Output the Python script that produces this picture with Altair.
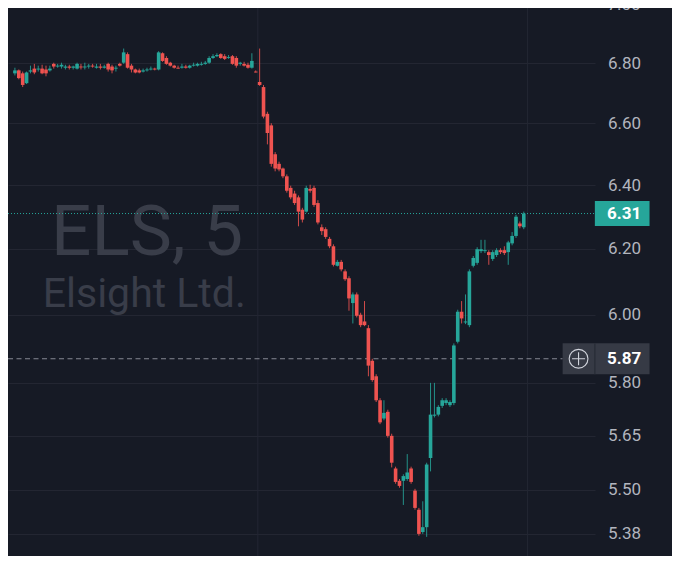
import altair as alt
import pandas as pd

# ---- data ----
opens = [
    6.766, 6.776, 6.766, 6.733, 6.772, 6.782, 6.779, 6.782, 6.779, 6.776,
    6.798, 6.789, 6.789, 6.785, 6.789, 6.785, 6.782, 6.789, 6.786, 6.789, 6.792, 6.785,
    6.789, 6.785, 6.798, 6.789, 6.782, 6.798, 6.802, 6.831, 6.792, 6.779,
    6.776, 6.772, 6.776, 6.779, 6.782, 6.779, 6.834, 6.818, 6.802, 6.792,
    6.785, 6.785, 6.789, 6.785, 6.792, 6.792, 6.795, 6.798, 6.802, 6.818,
    6.824, 6.831, 6.824, 6.818, 6.824, 6.818, 6.798, 6.798, 6.795, 6.785,
    6.772,
    6.737, 6.720, 6.631, 6.593, 6.499, 6.468, 6.453, 6.428, 6.391,
    6.373, 6.361, 6.322, 6.316, 6.388, 6.391, 6.343, 6.267, 6.261, 6.231,
    6.208, 6.148, 6.160, 6.131, 6.110, 6.035, 6.061, 6.000, 5.980, 5.960,
    5.864, 5.819, 5.750, 5.698, 5.717, 5.649, 5.558, 5.524, 5.524, 5.529,
    5.558, 5.497, 5.445, 5.385, 5.398, 5.587, 5.706, 5.709, 5.734, 5.742,
    5.736, 5.742, 5.920, 6.009, 5.977, 5.969, 6.148, 6.157, 6.193, 6.193,
    6.190, 6.169, 6.181, 6.196, 6.196, 6.190, 6.217, 6.240, 6.279, 6.267,
]
highs = [
    6.785, 6.779, 6.772, 6.772, 6.792, 6.798, 6.792, 6.795, 6.792, 6.792,
    6.802, 6.798, 6.802, 6.795, 6.795, 6.792, 6.802, 6.798, 6.802, 6.798, 6.798, 6.798,
    6.798, 6.795, 6.802, 6.795, 6.792, 6.802, 6.850, 6.837, 6.798, 6.782,
    6.782, 6.782, 6.785, 6.789, 6.785, 6.841, 6.837, 6.824, 6.805, 6.795,
    6.792, 6.798, 6.795, 6.795, 6.802, 6.802, 6.805, 6.808, 6.824, 6.831,
    6.834, 6.834, 6.831, 6.828, 6.828, 6.824, 6.805, 6.805, 6.802, 6.834,
    6.776,
    6.850, 6.727, 6.638, 6.600, 6.506, 6.475, 6.456, 6.434, 6.398,
    6.382, 6.367, 6.328, 6.398, 6.401, 6.398, 6.352, 6.276, 6.267, 6.237,
    6.214, 6.166, 6.166, 6.137, 6.116, 6.067, 6.067, 6.006, 6.041, 5.969,
    5.870, 5.825, 5.756, 5.750, 5.723, 5.655, 5.563, 5.529, 5.542, 5.598,
    5.563, 5.502, 5.450, 5.468, 5.574, 5.800, 5.800, 5.736, 5.756, 5.756,
    5.750, 5.915, 6.015, 6.041, 6.061, 6.137, 6.178, 6.205, 6.228, 6.228,
    6.196, 6.196, 6.202, 6.202, 6.208, 6.225, 6.252, 6.306, 6.285, 6.316,
]
lows = [
    6.759, 6.746, 6.720, 6.730, 6.766, 6.763, 6.772, 6.763, 6.756, 6.772,
    6.782, 6.785, 6.782, 6.779, 6.779, 6.779, 6.779, 6.779, 6.779, 6.782, 6.785, 6.782,
    6.779, 6.782, 6.772, 6.766, 6.772, 6.789, 6.798, 6.782, 6.769, 6.766,
    6.766, 6.769, 6.772, 6.776, 6.776, 6.776, 6.805, 6.795, 6.789, 6.782,
    6.782, 6.782, 6.782, 6.782, 6.789, 6.789, 6.792, 6.795, 6.798, 6.815,
    6.821, 6.815, 6.811, 6.815, 6.795, 6.785, 6.792, 6.789, 6.782, 6.782,
    6.769,
    6.724, 6.616, 6.531, 6.459, 6.444, 6.444, 6.422, 6.376, 6.355,
    6.337, 6.270, 6.282, 6.313, 6.376, 6.331, 6.276, 6.243, 6.231, 6.202,
    6.146, 6.146, 6.131, 6.102, 6.012, 5.974, 5.992, 5.963, 5.966, 5.819,
    5.803, 5.745, 5.682, 5.693, 5.644, 5.561, 5.516, 5.505, 5.458, 5.524,
    5.516, 5.445, 5.375, 5.380, 5.372, 5.550, 5.701, 5.704, 5.728, 5.736,
    5.731, 5.736, 5.915, 5.974, 5.972, 5.963, 6.143, 6.151, 6.187, 6.187,
    6.151, 6.163, 6.175, 6.184, 6.181, 6.151, 6.211, 6.234, 6.264, 6.261,
]
closes = [
    6.776, 6.750, 6.727, 6.769, 6.776, 6.769, 6.782, 6.766, 6.766, 6.782,
    6.789, 6.792, 6.795, 6.789, 6.785, 6.789, 6.798, 6.786, 6.789, 6.792, 6.789, 6.789,
    6.785, 6.789, 6.779, 6.776, 6.785, 6.792, 6.837, 6.785, 6.779, 6.769,
    6.769, 6.776, 6.779, 6.782, 6.779, 6.837, 6.808, 6.798, 6.792, 6.785,
    6.782, 6.789, 6.785, 6.792, 6.795, 6.798, 6.798, 6.802, 6.818, 6.824,
    6.828, 6.818, 6.815, 6.821, 6.798, 6.792, 6.802, 6.792, 6.785, 6.808,
    6.769,
    6.727, 6.622, 6.568, 6.468, 6.453, 6.450, 6.428, 6.382, 6.361,
    6.343, 6.316, 6.291, 6.391, 6.382, 6.337, 6.282, 6.255, 6.237, 6.208,
    6.151, 6.160, 6.137, 6.107, 6.049, 6.061, 5.997, 5.969, 5.969, 5.850,
    5.808, 5.750, 5.687, 5.714, 5.649, 5.574, 5.521, 5.510, 5.537, 5.547,
    5.521, 5.450, 5.380, 5.398, 5.569, 5.709, 5.709, 5.731, 5.750, 5.750,
    5.745, 5.909, 6.009, 5.989, 5.980, 6.131, 6.172, 6.199, 6.199, 6.196,
    6.181, 6.190, 6.196, 6.190, 6.187, 6.220, 6.240, 6.300, 6.270, 6.310,
]
price_ticks = [5.38, 5.50, 5.65, 5.80, 6.00, 6.20, 6.40, 6.60, 6.80]
top_tick = [7.00]
time_gridlines = [62.53, 131.98]     # bar-index positions of the vertical grid lines
last_price = 6.31
cross_price = 5.87
watermark_title = "ELS, 5"
watermark_name = "Elsight Ltd."

# ---- styling / layout ----
BG = "#161a25"
GRID = "#232632"
UP = "#26a69a"
DOWN = "#ef5350"
LABEL = "#b2b5be"
TOTAL_W, TOTAL_H = 664, 548
SX, SY = TOTAL_W / 680, TOTAL_H / 570
W = 587
H = TOTAL_H
FONT = "Roboto"

n = len(closes)
df = pd.DataFrame({
    "i": list(range(n)),
    "open": opens, "high": highs, "low": lows, "close": closes,
})
df["dir"] = ["up" if c >= o else "down" for o, c in zip(opens, closes)]

xscale = alt.Scale(domain=[-0.494, 148.05], nice=False, zero=False)
yscale = alt.Scale(type="log", domain=[5.3211, 6.9897], nice=False, zero=False)
color = alt.Color("dir:N", scale=alt.Scale(domain=["up", "down"], range=[UP, DOWN]), legend=None)

yaxis = alt.Axis(
    orient="right", values=price_ticks, format=".2f", grid=True, gridColor=GRID,
    gridWidth=1, domain=False, ticks=False, tickSize=0, labelPadding=29,
    labelAlign="center", labelColor=LABEL, labelFont=FONT, labelFontSize=17,
    labelOverlap=False, labelFlush=False, title=None,
)

# watermark
wm1 = alt.Chart(pd.DataFrame({"t": [watermark_title]})).mark_text(
    font=FONT, fontSize=71, color="#393d49", align="center", baseline="alphabetic"
).encode(x=alt.value(142.5 * SX), y=alt.value(257 * SY), text="t:N")
wm2 = alt.Chart(pd.DataFrame({"t": [watermark_name]})).mark_text(
    font=FONT, fontSize=41, color="#393d49", align="center", baseline="alphabetic"
).encode(x=alt.value(139.5 * SX), y=alt.value(311 * SY), text="t:N")

vgrid = alt.Chart(pd.DataFrame({"g": time_gridlines})).mark_rule(color=GRID, strokeWidth=1).encode(
    x=alt.X("g:Q", scale=xscale, axis=None), y=alt.value(0), y2=alt.value(H)
)

last_line = alt.Chart(pd.DataFrame({"p": [last_price]})).mark_rule(
    color=UP, strokeWidth=1, strokeDash=[1, 2]
).encode(y=alt.Y("p:Q", scale=yscale), x=alt.value(0), x2=alt.value(W))

cross_line = alt.Chart(pd.DataFrame({"p": [cross_price]})).mark_rule(
    color="#868993", strokeWidth=1, strokeDash=[5, 3.5]
).encode(y=alt.Y("p:Q", scale=yscale), x=alt.value(0), x2=alt.value(568 * SX))

base = alt.Chart(df).encode(x=alt.X("i:Q", scale=xscale, axis=None))
wicks = base.mark_rule(strokeWidth=1, opacity=0.85).encode(
    y=alt.Y("low:Q", scale=yscale, axis=yaxis), y2="high:Q", color=color
)
bodies = base.mark_bar(size=3.6).encode(
    y=alt.Y("open:Q", scale=yscale), y2="close:Q", color=color
)

top_label = alt.Chart(pd.DataFrame({"p": top_tick})).mark_text(
    font=FONT, fontSize=17, color=LABEL, align="center", baseline="middle"
).encode(y=alt.Y("p:Q", scale=yscale), x=alt.value(616.1), text=alt.Text("p:Q", format=".2f"))

# last price badge
hw1 = 56 * SX / 2
hh1 = 26 * SY / 2
badge1 = alt.Chart(pd.DataFrame({"p": [last_price]})).mark_point(
    shape=f"M-1,-{hh1/hw1:.4f}L1,-{hh1/hw1:.4f}L1,{hh1/hw1:.4f}L-1,{hh1/hw1:.4f}Z",
    size=(2 * hw1) ** 2, filled=True, color=UP, opacity=1, strokeWidth=0,
).encode(y=alt.Y("p:Q", scale=yscale), x=alt.value(629 * SX))
badge1_text = alt.Chart(pd.DataFrame({"p": [last_price]})).mark_text(
    font=FONT, fontSize=17, fontWeight="bold", color="#ffffff", align="center", baseline="middle"
).encode(y=alt.Y("p:Q", scale=yscale), x=alt.value(616.1), text=alt.Text("p:Q", format=".2f"))

# crosshair badge
hw2 = 89 * SX / 2
hh2 = 32 * SY / 2
badge2 = alt.Chart(pd.DataFrame({"p": [cross_price]})).mark_point(
    shape=f"M-1,-{hh2/hw2:.4f}L1,-{hh2/hw2:.4f}L1,{hh2/hw2:.4f}L-1,{hh2/hw2:.4f}Z",
    size=(2 * hw2) ** 2, filled=True, color="#363a45", opacity=1, strokeWidth=0,
).encode(y=alt.Y("p:Q", scale=yscale), x=alt.value(612.5 * SX))
divider = alt.Chart(pd.DataFrame({"p": [cross_price]})).mark_point(
    shape="M0,-1L0,1", size=(2 * hh2) ** 2, filled=False, color="#2a2e39",
    strokeWidth=1.5, opacity=1,
).encode(y=alt.Y("p:Q", scale=yscale), x=alt.value(601 * SX))
plus_circle = alt.Chart(pd.DataFrame({"p": [cross_price]})).mark_point(
    shape="circle", size=3.1416 * (10.6 ** 2), filled=False, color="#d1d4dc",
    strokeWidth=1.1, opacity=1,
).encode(y=alt.Y("p:Q", scale=yscale), x=alt.value(584.3 * SX))
plus_sign = alt.Chart(pd.DataFrame({"p": [cross_price]})).mark_point(
    shape="M-1,0L1,0M0,-1L0,1", size=13 ** 2, filled=False, color="#d1d4dc",
    strokeWidth=1.1, opacity=1,
).encode(y=alt.Y("p:Q", scale=yscale), x=alt.value(584.3 * SX))
badge2_text = alt.Chart(pd.DataFrame({"p": [cross_price]})).mark_text(
    font=FONT, fontSize=17, fontWeight="bold", color="#ffffff", align="center", baseline="middle"
).encode(y=alt.Y("p:Q", scale=yscale), x=alt.value(616.1), text=alt.Text("p:Q", format=".2f"))

chart = alt.layer(
    wm1, wm2, vgrid, last_line, cross_line, wicks, bodies, top_label,
    badge1, badge1_text, badge2, divider, plus_circle, plus_sign, badge2_text,
).properties(
    width=W, height=H, background=BG,
    autosize=alt.AutoSizeParams(type="none"),
    padding={"left": 0, "top": 0, "right": TOTAL_W - W, "bottom": 0},
).configure_view(stroke=None, fill=BG)

chart.save("out.html", embed_options={"renderer": "svg", "actions": False})
